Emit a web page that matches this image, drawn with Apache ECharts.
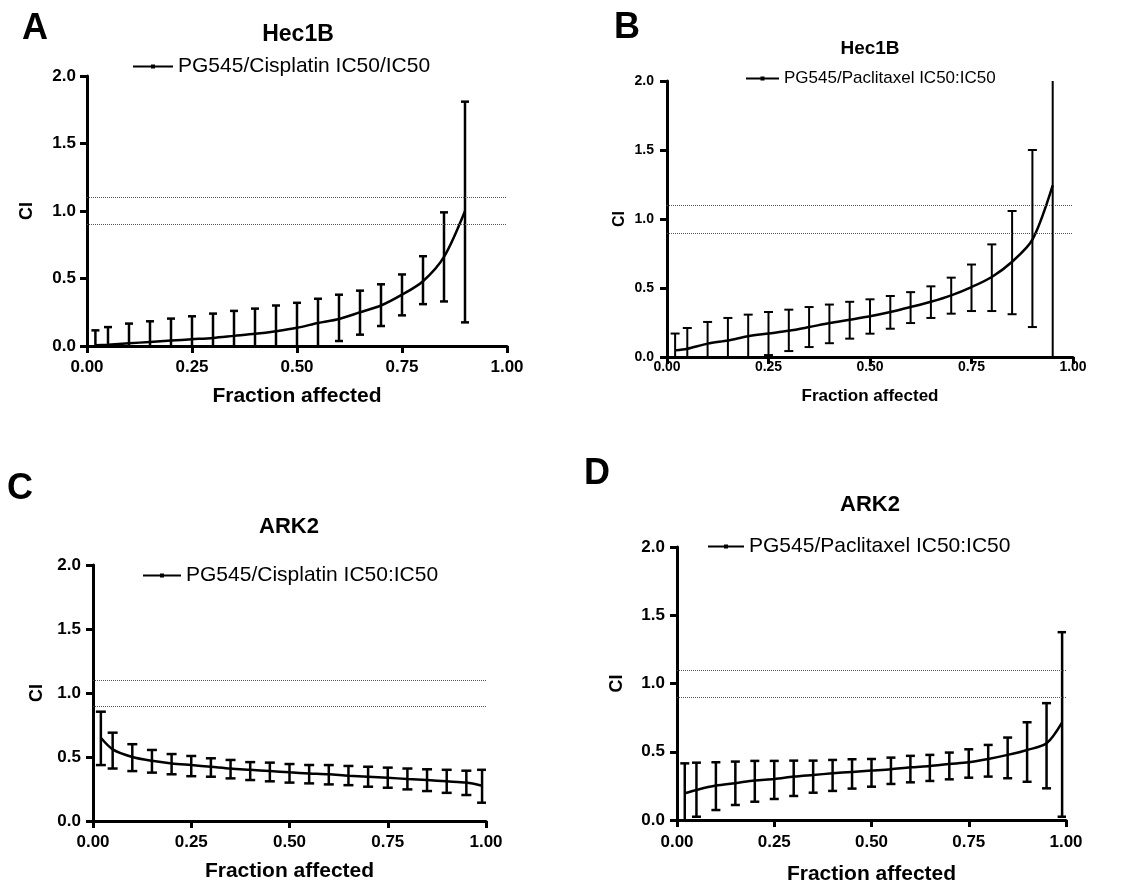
<!DOCTYPE html>
<html><head><meta charset="utf-8">
<script src="https://cdn.jsdelivr.net/npm/echarts@6.0.0/dist/echarts.min.js"></script>
<style>html,body{margin:0;padding:0;background:#fff}#c{width:1145px;height:885px}</style>
</head><body><div id="c"></div>
<script>
// ---------- DATA ----------
const xTicks = [0, 0.25, 0.5, 0.75, 1];
const yTicks = [0, 0.5, 1, 1.5, 2];
const refLines = [0.9, 1.1];

// Panel A: Hec1B, PG545/Cisplatin
const faA = [0.02,0.05,0.1,0.15,0.2,0.25,0.3,0.35,0.4,0.45,0.5,0.55,0.6,0.65,0.7,0.75,0.8,0.85,0.9];
const ciA = [0.005,0.01,0.02,0.03,0.04,0.05,0.06,0.075,0.09,0.11,0.135,0.17,0.2,0.25,0.3,0.38,0.48,0.66,1.0];
const hiA = [0.116,0.14,0.166,0.183,0.203,0.22,0.24,0.26,0.277,0.3,0.32,0.35,0.38,0.41,0.457,0.53,0.665,0.99,1.81];
const loA = [-0.1,-0.12,-0.13,-0.12,-0.12,-0.12,-0.12,-0.11,-0.1,-0.08,-0.05,-0.01,0.037,0.084,0.148,0.227,0.31,0.33,0.175];

// Panel B: Hec1B, PG545/Paclitaxel
const faB = [0.02,0.05,0.1,0.15,0.2,0.25,0.3,0.35,0.4,0.45,0.5,0.55,0.6,0.65,0.7,0.75,0.8,0.85,0.9,0.95];
const ciB = [0.048,0.06,0.097,0.12,0.15,0.17,0.19,0.217,0.246,0.27,0.295,0.326,0.362,0.40,0.447,0.507,0.58,0.69,0.85,1.244];
const hiB = [0.17,0.21,0.254,0.283,0.307,0.326,0.343,0.362,0.38,0.40,0.418,0.442,0.47,0.512,0.575,0.67,0.816,1.058,1.50,2.6];
const loB = [-0.074,-0.09,-0.06,-0.043,-0.007,0.014,0.043,0.072,0.10,0.133,0.169,0.205,0.246,0.283,0.314,0.333,0.333,0.31,0.217,-0.1];

// Panel C: ARK2, PG545/Cisplatin
const faC = [0.02,0.05,0.1,0.15,0.2,0.25,0.3,0.35,0.4,0.45,0.5,0.55,0.6,0.65,0.7,0.75,0.8,0.85,0.9,0.95,0.99];
const ciC = [0.65,0.56,0.50,0.47,0.45,0.437,0.424,0.41,0.40,0.39,0.38,0.372,0.365,0.354,0.346,0.338,0.328,0.32,0.31,0.30,0.276];
const hiC = [0.854,0.69,0.60,0.555,0.523,0.508,0.49,0.477,0.46,0.456,0.445,0.4375,0.437,0.43,0.424,0.417,0.41,0.404,0.40,0.393,0.40];
const loC = [0.437,0.41,0.39,0.378,0.365,0.35,0.346,0.333,0.32,0.31,0.30,0.294,0.286,0.28,0.268,0.26,0.247,0.234,0.22,0.203,0.143];

// Panel D: ARK2, PG545/Paclitaxel
const faD = [0.02,0.05,0.1,0.15,0.2,0.25,0.3,0.35,0.4,0.45,0.5,0.55,0.6,0.65,0.7,0.75,0.8,0.85,0.9,0.95,0.99];
const ciD = [0.196,0.22,0.252,0.27,0.29,0.30,0.318,0.33,0.342,0.352,0.362,0.372,0.386,0.396,0.41,0.423,0.447,0.477,0.513,0.562,0.716];
const hiD = [0.415,0.42,0.423,0.428,0.433,0.433,0.435,0.435,0.44,0.445,0.447,0.457,0.47,0.477,0.494,0.518,0.55,0.604,0.716,0.856,1.376];
const loD = [-0.03,0.024,0.073,0.11,0.134,0.154,0.176,0.20,0.213,0.23,0.244,0.264,0.276,0.286,0.298,0.31,0.318,0.306,0.28,0.232,0.024];

const panelLetters = ['A','B','C','D'];
const cellLines = ['Hec1B','Hec1B','ARK2','ARK2'];
const seriesNames = ['PG545/Cisplatin IC50/IC50','PG545/Paclitaxel IC50:IC50','PG545/Cisplatin IC50:IC50','PG545/Paclitaxel IC50:IC50'];
const xName = 'Fraction affected';
const yName = 'CI';

// ---------- LAYOUT ----------
const FF = '"Liberation Sans", Arial, sans-serif';
const layout = [
  {grid:{left:87, top:76, width:420, height:270}, tick:17, xm:13, ym:11, name:21, xg:40, yname:18, yg:51, cap:8, ew:2.5,
   title:{x:298,y:35,s:23}, letter:{x:35,y:29}, legend:{left:127, top:51, w:40, f:21}},
  {grid:{left:667, top:81, width:406, height:276}, tick:14, xm:3, ym:13, name:17, xg:31, yname:16, yg:39, cap:9, ew:2,
   title:{x:870,y:49,s:19}, letter:{x:627,y:28}, legend:{left:740, top:65, w:33, f:17}},
  {grid:{left:93, top:565, width:393, height:256}, tick:17, xm:13, ym:12, name:21, xg:40, yname:18, yg:47, cap:10, ew:2.5,
   title:{x:289,y:527,s:22}, letter:{x:20,y:489}, legend:{left:137, top:560, w:38, f:21}},
  {grid:{left:677, top:547, width:389, height:273}, tick:17, xm:14, ym:12, name:21, xg:44, yname:18, yg:51, cap:9, ew:2.5,
   title:{x:870,y:505,s:22}, letter:{x:597,y:474}, legend:{left:702, top:531, w:36, f:21}}
];

const dataSets = [
  {fa:faA, ci:ciA, hi:hiA, lo:loA},
  {fa:faB, ci:ciB, hi:hiB, lo:loB},
  {fa:faC, ci:ciC, hi:hiC, lo:loC},
  {fa:faD, ci:ciD, hi:hiD, lo:loD}
];

const grids = [], xAxes = [], yAxes = [], series = [], legends = [], graphics = [];

layout.forEach((L, i) => {
  grids.push(Object.assign({containLabel:false, outerBoundsMode:'none'}, L.grid));
  const axisCommon = {
    gridIndex:i, type:'value',
    axisLine:{show:true, onZero:false, lineStyle:{color:'#000', width:3}},
    axisTick:{show:true, inside:false, length:7, lineStyle:{color:'#000', width:3}},
    splitLine:{show:false},
    nameLocation:'middle'
  };
  xAxes.push(Object.assign({}, axisCommon, {
    min:xTicks[0], max:xTicks[xTicks.length-1], interval:xTicks[1]-xTicks[0],
    axisLabel:{color:'#000', fontWeight:'bold', fontSize:L.tick, fontFamily:FF, margin:L.xm,
      showMinLabel:true, showMaxLabel:true, formatter:v=>v.toFixed(2)},
    name:xName, nameGap:L.xg,
    nameTextStyle:{color:'#000', fontWeight:'bold', fontSize:L.name, fontFamily:FF}
  }));
  yAxes.push(Object.assign({}, axisCommon, {
    min:yTicks[0], max:yTicks[yTicks.length-1], interval:yTicks[1]-yTicks[0],
    axisLabel:{color:'#000', fontWeight:'bold', fontSize:L.tick, fontFamily:FF, margin:L.ym,
      showMinLabel:true, showMaxLabel:true, formatter:v=>v.toFixed(1)},
    name:yName, nameGap:L.yg,
    nameTextStyle:{color:'#000', fontWeight:'bold', fontSize:L.yname, fontFamily:FF}
  }));

  const D = dataSets[i];
  series.push({
    type:'line', name:seriesNames[i], xAxisIndex:i, yAxisIndex:i,
    data: D.fa.map((x,k)=>[x, D.ci[k]]),
    smooth:0.3, showSymbol:false, symbol:'rect', symbolSize:4,
    lineStyle:{color:'#000', width:2.5}, itemStyle:{color:'#000'},
    z:3, silent:true,
    markLine:{
      silent:true, symbol:['none','none'], label:{show:false},
      lineStyle:{color:'#555', width:1, type:'dotted'},
      data: refLines.map(v=>({yAxis:v}))
    }
  });
  const cap = L.cap, ew = L.ew;
  series.push({
    type:'custom', name:seriesNames[i] + ' err', xAxisIndex:i, yAxisIndex:i,
    clip:true, silent:true, z:2,
    data: D.fa.map((x,k)=>[x, D.lo[k], D.hi[k]]),
    encode:{x:0, y:[1,2]},
    renderItem:function(params, api){
      const x = api.value(0);
      const pLo = api.coord([x, api.value(1)]);
      const pHi = api.coord([x, api.value(2)]);
      const st = {stroke:'#000', lineWidth:ew, fill:null};
      const hw = cap/2;
      return {type:'group', children:[
        {type:'line', shape:{x1:pLo[0], y1:pLo[1], x2:pHi[0], y2:pHi[1]}, style:st},
        {type:'line', shape:{x1:pHi[0]-hw, y1:pHi[1], x2:pHi[0]+hw, y2:pHi[1]}, style:st},
        {type:'line', shape:{x1:pLo[0]-hw, y1:pLo[1], x2:pLo[0]+hw, y2:pLo[1]}, style:st}
      ]};
    }
  });

  legends.push({
    data:[seriesNames[i]], left:L.legend.left, top:L.legend.top,
    itemWidth:L.legend.w, itemHeight:5, itemGap:5, selectedMode:false,
    textStyle:{color:'#000', fontSize:L.legend.f, fontFamily:FF}
  });

  graphics.push({type:'text', x:L.title.x, y:L.title.y, silent:true,
    style:{text:cellLines[i], fill:'#000', font:'bold '+L.title.s+'px '+FF,
      textAlign:'center', textVerticalAlign:'middle', align:'center', verticalAlign:'middle'}});
  graphics.push({type:'text', x:L.letter.x, y:L.letter.y, silent:true,
    style:{text:panelLetters[i], fill:'#000', font:'bold 36px '+FF,
      textAlign:'center', textVerticalAlign:'middle', align:'center', verticalAlign:'middle'}});
});

const chart = echarts.init(document.getElementById('c'), null, {renderer:'canvas'});
chart.setOption({
  animation:false,
  backgroundColor:'#fff',
  grid:grids, xAxis:xAxes, yAxis:yAxes, series:series, legend:legends, graphic:graphics
});
</script>
</body></html>
